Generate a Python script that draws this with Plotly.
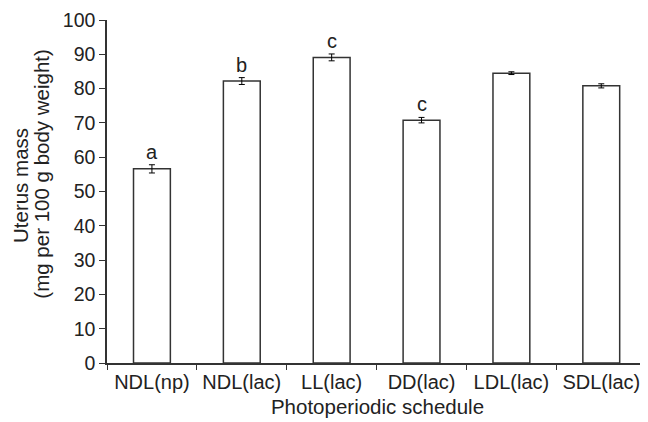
import plotly.graph_objects as go

categories = ["NDL(np)", "NDL(lac)", "LL(lac)", "DD(lac)", "LDL(lac)", "SDL(lac)"]
means = [56.6, 82.2, 89.1, 70.8, 84.5, 80.8]
errors = [1.2, 1.0, 1.0, 0.8, 0.4, 0.6]
letters = ["a", "b", "c", "c", "", ""]
y_title_lines = ["Uterus mass", "(mg per 100 g body weight)"]

font_family = "Liberation Sans, Arial, sans-serif"
fs = 20

fig = go.Figure()
fig.add_trace(go.Bar(
    x=categories, y=means,
    width=0.41,
    marker=dict(color="white", line=dict(color="#333333", width=1.5)),
    error_y=dict(type="data", array=errors, visible=True, color="black", thickness=1, width=3),
    showlegend=False,
))

for c, m, e, l in zip(categories, means, errors, letters):
    if l:
        fig.add_annotation(x=c, y=m + e, text=l, showarrow=False, yanchor="bottom",
                           yshift=0, font=dict(size=fs, color="#222222", family=font_family))

# y-axis title as two rotated annotations (tight line spacing)
for line, xs, yp in zip(y_title_lines, [-87, -65], [0.516, 0.552]):
    fig.add_annotation(xref="paper", yref="paper", x=0, y=yp, xanchor="center", yanchor="middle",
                       xshift=xs, text=line, textangle=-90, showarrow=False,
                       font=dict(size=20.5, color="#222222", family=font_family))

fig.update_layout(
    template="simple_white",
    width=640, height=414,
    margin=dict(l=99, r=0, t=12, b=59),
    plot_bgcolor="white", paper_bgcolor="white",
    font=dict(family=font_family, size=fs, color="#222222"),
)
fig.update_xaxes(
    type="category", range=[-0.5, 5.52], automargin=False,
    showline=True, linecolor="#333333", linewidth=1.5,
    ticks="outside", tickson="boundaries", ticklen=5, tickcolor="#333333",
    tickfont=dict(size=20), tickangle=0,
    title=dict(text="Photoperiodic schedule", font=dict(size=20.5), standoff=8),
    showgrid=False,
)
fig.update_yaxes(
    range=[0, 100], dtick=10, automargin=False,
    showline=True, linecolor="#333333", linewidth=1.5,
    ticks="outside", ticklen=6, tickcolor="#333333",
    tickfont=dict(size=19.5),
    showgrid=False, zeroline=False,
)

fig.write_html("out.html")
